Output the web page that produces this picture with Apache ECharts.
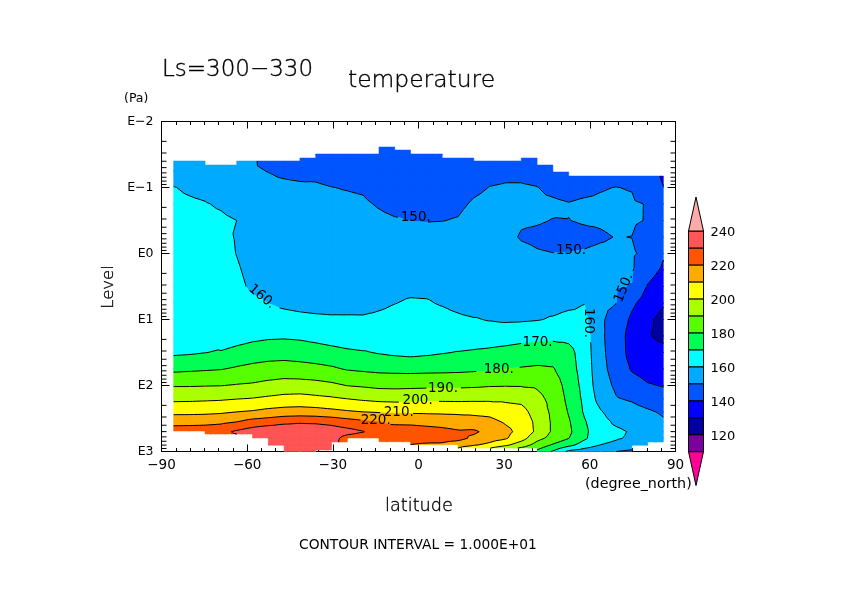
<!DOCTYPE html>
<html>
<head>
<meta charset="utf-8">
<style>
html, body { margin: 0; padding: 0; background: #fff; }
#container { width: 842px; height: 595px; }
</style>
<script src="https://cdn.jsdelivr.net/npm/echarts@6/dist/echarts.min.js"></script>
</head>
<body>
<div id="container"></div>
<script>
// gaussian latitudes of the model grid
var lats = [-85.76, -80.27, -74.74, -69.21, -63.68, -58.14, -52.61, -47.07, -41.53, -35.99, -30.46, -24.92, -19.38, -13.84, -8.31, -2.77,
    2.77, 8.31, 13.84, 19.38, 24.92, 30.46, 35.99, 41.53, 47.07, 52.61, 58.14, 63.68, 69.21, 74.74, 80.27, 85.76];

// log10(Pa) of the rows
var levelExp = [-1.75, -1.5, -1.25, -1, -0.75, -0.5, -0.25, 0, 0.25, 0.5, 0.75, 1, 1.25, 1.5, 1.75, 2, 2.2, 2.4, 2.55, 2.7, 2.8, 2.9, 3];

// temperature, one list per latitude, top row first
var tempByLat = [
    [151, 154, 157.4, 160.2, 161.2, 162.1, 163.1, 164, 165, 166, 166.9, 167.9, 168.8, 168.2, 177.8, 189.3, 197.8, 207.5, 216.3, 225.5, 226, 226, 226],
    [152, 153.5, 156, 159.2, 160.8, 161.8, 162.8, 163.8, 164.8, 165.8, 166.8, 167.8, 168.8, 168.8, 178.4, 189.3, 198, 207.5, 216.6, 225.5, 226, 226, 226],
    [151, 152.5, 155, 158.5, 160.3, 161.3, 162.4, 163.5, 164.5, 165.6, 166.7, 167.8, 168.9, 169.8, 179, 189.6, 198.4, 207.8, 216.9, 226, 227, 227, 227],
    [151, 152, 154, 156.8, 159.4, 160.9, 162, 163.2, 163.5, 163.5, 163.5, 163.2, 163, 170.9, 179.6, 189.8, 198.8, 208.5, 217.9, 227, 228, 228, 228],
    [150.5, 151, 153, 155.5, 158, 160, 159.5, 159.8, 161, 162.2, 164, 165, 165.3, 173.2, 181.2, 190.7, 199.7, 210, 219.9, 231.5, 227, 226, 226],
    [150.2, 150.4, 150.5, 151.5, 153, 154.5, 155.5, 156.5, 157.5, 158.5, 161.5, 165, 167.3, 174.9, 182.6, 191.4, 200.4, 211, 223.5, 235, 231, 232, 232],
    [146.5, 148, 149.9, 151, 152.4, 153.6, 154.9, 156.1, 157.4, 158.6, 159.9, 164.4, 168.4, 175.8, 183.7, 192.9, 201.7, 212.8, 225, 238, 236, 235, 235],
    [145, 147, 149.2, 150.9, 152, 153.3, 154.5, 155.8, 157, 157.8, 158, 163.5, 168.7, 176, 184.3, 194.1, 202.9, 213.9, 227.5, 238, 237, 236, 236],
    [144.5, 146.5, 148.8, 150.7, 151.8, 153.1, 154.3, 155.6, 156.5, 156.5, 157, 162.6, 168.2, 175.3, 183.7, 194.1, 203.4, 214.3, 228.5, 238, 237, 236, 236],
    [144, 146, 148.4, 150.8, 151.9, 153, 154.2, 155, 155.3, 155.5, 156.3, 162, 166.9, 174.4, 182.7, 193.4, 202.3, 213.8, 228, 238, 236, 235, 235],
    [143.5, 145.5, 147.5, 150.1, 151.4, 152.7, 154, 155, 155.3, 155.5, 156.2, 161.5, 165.3, 173.2, 181.4, 192, 201.3, 212.5, 226.5, 236, 234, 233, 232],
    [143, 145, 147, 149.7, 151.2, 152.5, 153.8, 155, 155.3, 155.5, 156.5, 161.4, 164.1, 171.7, 179.3, 189.8, 199.9, 211.1, 223.9, 233.5, 226, 225, 225],
    [142.5, 144.5, 146.5, 149.3, 150.8, 152.2, 153.6, 155, 155.3, 155.5, 156.6, 161.3, 163.2, 170.8, 178.4, 188.9, 198.5, 210, 221.8, 230.5, 224, 223, 223],
    [141.5, 143, 145, 147.5, 149.5, 151.2, 152.8, 154.4, 156, 157, 158.2, 162, 164.9, 169.35, 177.6, 187.8, 197.4, 209.3, 219.8, 224, 224, 223, 223],
    [141, 142.5, 144.2, 146, 148.3, 150.5, 152.3, 154.2, 156.1, 158, 159.8, 162.9, 166.1, 168.2, 177.3, 187.6, 197, 208.7, 218.3, 224, 225, 225, 225],
    [141, 142.5, 144.5, 146.5, 148.5, 149.9, 152, 154.2, 156.3, 158.1, 160.9, 163.7, 166.5, 167.5, 177, 187.9, 197, 208.6, 218.1, 224, 224, 219.7, 217],
    [141, 143, 145, 147, 148.8, 149.8, 152, 154, 156.2, 158, 160.7, 163.6, 166.5, 168.3, 177.3, 188.1, 197.9, 208.4, 217.2, 223.5, 224, 218.5, 216],
    [141, 143.5, 145.5, 147.2, 148.7, 149.9, 151.9, 153.8, 155.7, 157.7, 159.3, 162.8, 166.2, 169.4, 177.5, 188.1, 197.9, 208.2, 216.5, 222.5, 223, 218.5, 215.5],
    [141.5, 144, 146, 147.7, 149, 150.3, 152, 153.8, 155.5, 156.5, 157.4, 161.7, 163.1, 170.45, 177.8, 188.2, 197.8, 208, 215.3, 221, 223, 214.5, 205],
    [143.5, 145.5, 147.2, 149, 150.6, 152, 153.3, 153.4, 153.5, 154.5, 155.5, 160.6, 164, 171.3, 178.4, 188.6, 198, 207.9, 213.8, 221.5, 218, 211, 196],
    [145.5, 147.2, 148.6, 150.1, 151.4, 152.6, 153.8, 155.1, 156.3, 157.2, 158, 159.5, 165.2, 171.9, 178.7, 189.3, 198.1, 207.4, 212.5, 217, 214, 207.7, 192],
    [146, 147.8, 149, 150.4, 151, 151.5, 151, 152, 154, 156, 158, 158.7, 165.7, 172.9, 180.1, 189.5, 198.2, 204.5, 209, 212.5, 211, 202, 185],
    [146, 147.8, 149, 150.4, 150.8, 150.4, 149.7, 151, 153, 155, 157, 158.9, 166.9, 173.8, 180.8, 189.4, 197.3, 203.5, 206.5, 207, 204, 195, 182],
    [145, 146.8, 148.5, 150.1, 150.7, 150.3, 149.3, 150.3, 152.5, 155, 157.5, 159.5, 167.6, 174.5, 181.5, 188.9, 192.4, 195.5, 197.5, 198, 193, 186.3, 178],
    [144, 145.8, 147.3, 149, 150.7, 149.9, 149, 150.05, 152, 154.5, 157, 160.8, 167.8, 174.7, 180.8, 186, 187.5, 188, 188.5, 188.5, 186.5, 179, 169],
    [143, 145, 146.7, 148.3, 150.2, 149.95, 149, 150.1, 152, 154.5, 158, 162.5, 167.8, 172.5, 173.5, 175.7, 177.5, 179.3, 181, 182, 180.2, 173, 158],
    [143.5, 145.5, 147, 148.7, 150.8, 150.3, 149.2, 150.3, 152, 155, 159.8, 162, 165, 166, 166.5, 167, 167.8, 168.8, 170.8, 172, 171.5, 165.5, 155],
    [143, 145, 147, 149.7, 150.7, 150.4, 149.6, 150.7, 151.3, 151.3, 151.3, 151.2, 151.3, 151.7, 152.5, 154, 156.3, 161, 163.5, 164, 163, 160, 152],
    [143, 145, 147.5, 150.1, 151, 150.8, 150.1, 150.8, 150.6, 150.4, 150.1, 147, 146.5, 146.5, 146.8, 148.5, 150.5, 154.5, 158.2, 162, 160.8, 158, 150],
    [141, 143, 146, 149.7, 150.8, 150.7, 149.95, 150.7, 150.6, 149.8, 142, 138, 135.2, 135.8, 139, 144.6, 149, 153, 156, 159, 158.8, 155, 148],
    [141, 141.5, 142, 145, 149.7, 149.7, 147, 148.4, 144, 139.3, 135, 131.5, 130.5, 132, 136, 140.8, 146, 151.2, 153.5, 155, 155, 152, 148],
    [135, 137, 138.6, 140.1, 141.5, 142.5, 142, 141, 138.5, 134.5, 130.8, 127.5, 128.5, 132, 135.5, 139.5, 144, 148.9, 151, 152, 152, 151, 150]
];

// first and last valid level (log10 Pa) between two neighbouring latitudes
var validTop = [-1.402, -1.402, -1.341, -1.341, -1.402, -1.402, -1.402, -1.402, -1.447, -1.508, -1.508, -1.508, -1.508, -1.614, -1.568,
    -1.508, -1.508, -1.447, -1.447, -1.402, -1.402, -1.402, -1.447, -1.341, -1.235, -1.174, -1.174, -1.174, -1.174, -1.174, -1.174];
var validBottom = [2.689, 2.689, 2.735, 2.735, 2.735, 2.795, 2.902, 3, 3, 2.977, 2.856, 2.795, 2.795, 2.852, 2.852,
    2.897, 2.897, 2.897, 2.947, 2.947, 2.947, 2.947, 2.947, 3, 3, 3, 3, 3, 3, 2.902, 2.856];

// shading, from the low end of the colour bar
var bandLow = [90, 110, 120, 130, 140, 150, 160, 170, 180, 190, 200, 210, 220, 230, 240];
var bandHigh = [110, 120, 130, 140, 150, 160, 170, 180, 190, 200, 210, 220, 230, 240, 260];
var bandColors = ['#ff0099', '#7a00a0', '#0000a0', '#0000ff', '#0055ff', '#00aaff', '#00ffff', '#00ff55', '#55ff00', '#aaff00', '#ffff00', '#ffaa00', '#ff5500', '#ff5555', '#ffaaaa'];
var contourLevels = [130, 140, 150, 160, 170, 180, 190, 200, 210, 220, 230];

// contour labels: level, latitude, log10 Pa, rotation in degrees
var contourLabels = [
    [150, -0.95, -0.538, 0],
    [150, 53.4, -0.042, 0],
    [150, 71.96, 0.523, 68],
    [160, -54.9, 0.655, -40],
    [160, 59.5, 1.053, -90],
    [170, 41.7, 1.345, 0],
    [180, 28.1, 1.755, 0],
    [190, 8.6, 2.042, 0],
    [200, -0.3, 2.23, 0],
    [210, -6.9, 2.406, 0],
    [220, -15, 2.523, 0]
];

var logMinor = [2, 3, 4, 5, 6, 7, 8, 9];
var decades = [-2, -1, 0, 1, 2];

// clip a polygon of [lat, exp, t] to one side of a threshold on component k
function clipPoly(poly, k, limit, keepAbove) {
    var out = [];
    for (var i = 0; i < poly.length; i++) {
        var a = poly[i], b = poly[(i + 1) % poly.length];
        var inA = keepAbove ? a[k] >= limit : a[k] <= limit;
        var inB = keepAbove ? b[k] >= limit : b[k] <= limit;
        if (inA) out.push(a);
        if (inA != inB) {
            var f = (limit - a[k]) / (b[k] - a[k]);
            out.push([a[0] + (b[0] - a[0]) * f, a[1] + (b[1] - a[1]) * f, a[2] + (b[2] - a[2]) * f]);
        }
    }
    return out;
}

function buildTriangles() {
    var tris = [];
    for (var i = 0; i < lats.length - 1; i++) {
        for (var j = 0; j < levelExp.length - 1; j++) {
            var p = [
                [lats[i], levelExp[j], tempByLat[i][j]],
                [lats[i + 1], levelExp[j], tempByLat[i + 1][j]],
                [lats[i + 1], levelExp[j + 1], tempByLat[i + 1][j + 1]],
                [lats[i], levelExp[j + 1], tempByLat[i][j + 1]]
            ];
            var c = [(lats[i] + lats[i + 1]) / 2, (levelExp[j] + levelExp[j + 1]) / 2,
                (p[0][2] + p[1][2] + p[2][2] + p[3][2]) / 4];
            for (var k = 0; k < 4; k++) {
                var t = clipPoly([p[k], p[(k + 1) % 4], c], 1, validTop[i], true);
                if (t.length) t = clipPoly(t, 1, validBottom[i], false);
                if (t.length >= 3) tris.push(t);
            }
        }
    }
    return tris;
}

var triangles = buildTriangles();

function polyPath(poly, api) {
    var d = '';
    poly.forEach(function (v, idx) {
        var pt = api.coord([v[0], v[1]]);
        d += (idx ? 'L' : 'M') + pt[0].toFixed(2) + ' ' + pt[1].toFixed(2);
    });
    return d + 'Z';
}

function renderField(params, api) {
    var children = [];
    bandLow.forEach(function (lo, b) {
        var d = '';
        triangles.forEach(function (t) {
            var q = clipPoly(t, 2, lo, true);
            if (q.length) q = clipPoly(q, 2, bandHigh[b], false);
            if (q.length >= 3) d += polyPath(q, api);
        });
        if (d) {
            children.push({
                type: 'path', shape: { pathData: d },
                style: { fill: bandColors[b], stroke: bandColors[b], lineWidth: 0.5 }, silent: true
            });
        }
    });
    var gapPts = contourLabels.map(function (l) { return [l[0], api.coord([l[1], l[2]])]; });
    contourLevels.forEach(function (lev) {
        var d = '';
        triangles.forEach(function (t) {
            var cut = [];
            for (var i = 0; i < t.length; i++) {
                var a = t[i], b = t[(i + 1) % t.length];
                if ((a[2] < lev) != (b[2] < lev)) {
                    var f = (lev - a[2]) / (b[2] - a[2]);
                    cut.push(api.coord([a[0] + (b[0] - a[0]) * f, a[1] + (b[1] - a[1]) * f]));
                }
            }
            if (cut.length == 2) {
                var mx = (cut[0][0] + cut[1][0]) / 2, my = (cut[0][1] + cut[1][1]) / 2;
                var hidden = gapPts.some(function (g) {
                    return g[0] == lev && Math.hypot(g[1][0] - mx, g[1][1] - my) < 17;
                });
                if (!hidden) {
                    d += 'M' + cut[0][0].toFixed(2) + ' ' + cut[0][1].toFixed(2) + 'L' + cut[1][0].toFixed(2) + ' ' + cut[1][1].toFixed(2);
                }
            }
        });
        if (d) {
            children.push({
                type: 'path', shape: { pathData: d },
                style: { fill: null, stroke: '#000', lineWidth: 1 }, silent: true
            });
        }
    });
    contourLabels.forEach(function (l) {
        var pt = api.coord([l[1], l[2]]);
        children.push({
            type: 'text', x: pt[0], y: pt[1], rotation: l[3] * Math.PI / 180, silent: true,
            style: {
                text: l[0] + '.', fill: '#000', align: 'center', verticalAlign: 'middle',
                fontFamily: 'DejaVu Sans', fontSize: 13.5
            }
        });
    });
    return { type: 'group', children: children };
}

// log minor ticks on both sides of the frame
function renderLogTicks(params, api) {
    var children = [];
    decades.forEach(function (dec) {
        logMinor.forEach(function (m) {
            var e = dec + Math.log10(m);
            var l = api.coord([-90, e]), r = api.coord([90, e]);
            children.push({ type: 'line', shape: { x1: l[0], y1: l[1], x2: l[0] + 5, y2: l[1] }, style: { stroke: '#000', lineWidth: 1 }, silent: true });
            children.push({ type: 'line', shape: { x1: r[0], y1: r[1], x2: r[0] - 5, y2: r[1] }, style: { stroke: '#000', lineWidth: 1 }, silent: true });
        });
    });
    return { type: 'group', children: children };
}

function renderColorBar(params, api) {
    var children = [];
    bandLow.forEach(function (lo, b) {
        var hi = bandHigh[b];
        var pts;
        if (b == 0) {
            pts = [api.coord([0, hi]), api.coord([1, hi]), api.coord([0.5, lo])];
        } else if (b == bandLow.length - 1) {
            pts = [api.coord([0, lo]), api.coord([1, lo]), api.coord([0.5, hi])];
        } else {
            pts = [api.coord([0, lo]), api.coord([1, lo]), api.coord([1, hi]), api.coord([0, hi])];
        }
        children.push({
            type: 'polygon', shape: { points: pts }, silent: true,
            style: { fill: bandColors[b], stroke: '#000', lineWidth: 1 }
        });
    });
    return { type: 'group', children: children };
}

var labelFont = { fontFamily: 'DejaVu Sans', color: '#000' };

function minusText(v) {
    return String(v).replace('-', '\u2212');
}

var frameLine = { show: true, onZero: false, lineStyle: { color: '#000', width: 1 } };

var myChart = echarts.init(document.getElementById('container'), null, { renderer: 'canvas' });

function freeText(text, x, y, size, align, rotation, thin) {
    return {
        type: 'text', x: x, y: y, rotation: rotation || 0, silent: true,
        style: {
            text: text, fill: '#000', fontFamily: 'DejaVu Sans', fontWeight: thin ? 200 : 400, fontSize: size,
            stroke: thin ? '#000' : null, lineWidth: thin ? 0.35 : 0,
            align: align || 'left', verticalAlign: 'middle'
        }
    };
}

var option = {
    animation: false,
    backgroundColor: '#fff',
    grid: [
        { left: 161.5, top: 121.5, width: 514, height: 330, containLabel: false },
        { left: 688.5, top: 231, width: 15, height: 237.6, containLabel: false }
    ],
    xAxis: [
        {
            type: 'value', gridIndex: 0, min: -90, max: 90, interval: 30, position: 'bottom',
            axisLine: frameLine,
            axisTick: { inside: true, length: 7, lineStyle: { color: '#000' } },
            minorTick: { show: true, splitNumber: 6, length: 3.5, lineStyle: { color: '#000' } },
            splitLine: { show: false },
            axisLabel: Object.assign({ fontSize: 13.5, margin: 7, formatter: minusText }, labelFont)
        },
        {
            type: 'value', gridIndex: 0, min: -90, max: 90, interval: 30, position: 'top',
            axisLine: frameLine,
            axisTick: { inside: true, length: 7, lineStyle: { color: '#000' } },
            minorTick: { show: true, splitNumber: 6, length: 3.5, lineStyle: { color: '#000' } },
            splitLine: { show: false }, axisLabel: { show: false }
        },
        { type: 'value', gridIndex: 1, min: 0, max: 1, show: false }
    ],
    yAxis: [
        {
            type: 'value', gridIndex: 0, min: -2, max: 3, interval: 1, inverse: true, position: 'left',
            axisLine: frameLine,
            axisTick: { inside: true, length: 8, lineStyle: { color: '#000' } },
            splitLine: { show: false },
            axisLabel: Object.assign({ fontSize: 12.5, margin: 8, formatter: function (v) { return 'E' + minusText(v); } }, labelFont)
        },
        {
            type: 'value', gridIndex: 0, min: -2, max: 3, interval: 1, inverse: true, position: 'right',
            axisLine: frameLine,
            axisTick: { inside: true, length: 8, lineStyle: { color: '#000' } },
            splitLine: { show: false }, axisLabel: { show: false }
        },
        {
            type: 'value', gridIndex: 1, min: 100, max: 240, interval: 20, position: 'right',
            axisLine: { show: false }, axisTick: { show: false }, splitLine: { show: false },
            axisLabel: Object.assign({
                fontSize: 13, margin: 7, verticalAlign: 'top', lineHeight: 3,
                formatter: function (v) { return v == 100 ? '' : v; }
            }, labelFont)
        }
    ],
    series: [
        { type: 'custom', coordinateSystem: 'cartesian2d', xAxisIndex: 0, yAxisIndex: 0, data: [[0, 0]], renderItem: renderField, z: 1, silent: true, clip: false },
        { type: 'custom', coordinateSystem: 'cartesian2d', xAxisIndex: 0, yAxisIndex: 0, data: [[0, 0]], renderItem: renderLogTicks, z: 5, silent: true, clip: false },
        { type: 'custom', coordinateSystem: 'cartesian2d', xAxisIndex: 2, yAxisIndex: 2, data: [[0, 110]], renderItem: renderColorBar, z: 1, silent: true, clip: false }
    ],
    graphic: [
        freeText('Ls=300\u2212330', 162, 70, 23, 'left', 0, true),
        freeText('temperature', 348, 81, 23.4, 'left', 0, true),
        freeText('(Pa)', 124, 99, 12.5),
        freeText('Level', 109, 287, 16.5, 'center', Math.PI / 2, true),
        freeText('latitude', 419, 506, 17.7, 'center', 0, true),
        freeText('(degree_north)', 585, 484, 14.3),
        freeText('CONTOUR INTERVAL = 1.000E+01', 299, 545, 13.8)
    ]
};

myChart.setOption(option);
</script>
</body>
</html>
